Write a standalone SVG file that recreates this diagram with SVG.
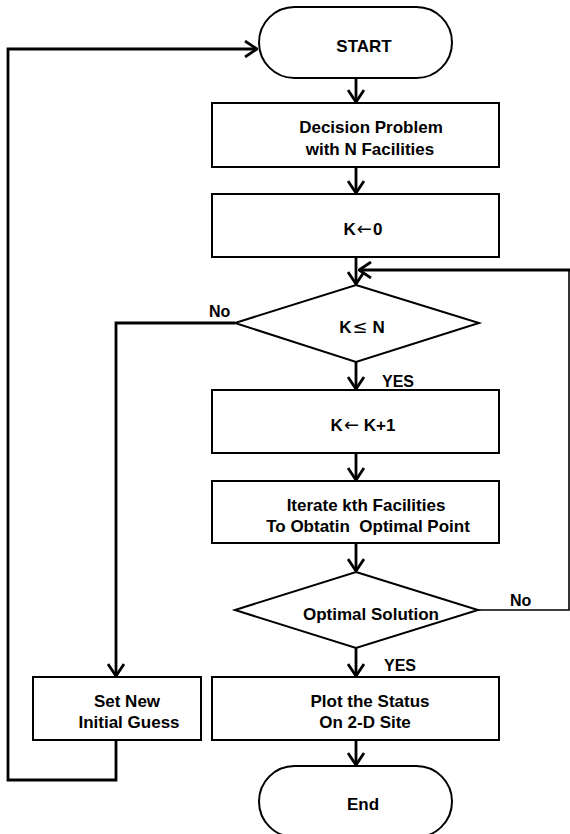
<svg xmlns="http://www.w3.org/2000/svg" width="570" height="834" viewBox="0 0 570 834">
<style>
.shape{fill:#fff;stroke:#000;stroke-width:2}
.t{font-family:"Liberation Sans",Arial,sans-serif;font-weight:bold;font-size:17px;fill:#000;text-anchor:middle}
.sym{font-family:"DejaVu Sans",sans-serif;font-weight:normal;font-size:18px}
.lbl{font-family:"Liberation Sans",Arial,sans-serif;font-weight:bold;font-size:16px;fill:#000}
.c{fill:none;stroke:#000;stroke-width:2.8}
.thin{fill:none;stroke:#000;stroke-width:1.6}
</style>
<defs>
<marker id="arr" markerUnits="userSpaceOnUse" viewBox="0 0 14 18" refX="13" refY="9" markerWidth="14" markerHeight="18" orient="auto">
<path d="M1,1 L13,9 L1,17" fill="none" stroke="#000" stroke-width="2.8"/>
</marker>
</defs>
<rect width="570" height="834" fill="#fff"/>
<g id="connectors">
<line class="c" x1="356" y1="78" x2="356" y2="102" marker-end="url(#arr)"/>
<line class="c" x1="356" y1="167" x2="356" y2="193" marker-end="url(#arr)"/>
<line class="c" x1="356" y1="257" x2="356" y2="284" marker-end="url(#arr)"/>
<line class="c" x1="356" y1="362" x2="356" y2="389" marker-end="url(#arr)"/>
<line class="c" x1="356" y1="453" x2="356" y2="480" marker-end="url(#arr)"/>
<line class="c" x1="356" y1="543" x2="356" y2="571" marker-end="url(#arr)"/>
<line class="c" x1="356" y1="648" x2="356" y2="676" marker-end="url(#arr)"/>
<line class="c" x1="356" y1="740" x2="356" y2="765" marker-end="url(#arr)"/>
<polyline class="c" points="235,323 116,323 116,676" marker-end="url(#arr)"/>
<polyline class="c" points="116,740 116,780 8,780 8,49 257,49" marker-end="url(#arr)"/>
<polyline class="thin" points="478,610 569,610 569,270"/>
<line class="c" x1="570" y1="270" x2="359" y2="270" marker-end="url(#arr)"/>
</g>
<g id="start"><rect class="shape" x="259" y="7" width="193" height="71" rx="35.5"/><text class="t" x="364" y="52">START</text></g>
<g id="decision-problem"><rect class="shape" x="212" y="103" width="287" height="64"/><text class="t" x="371" y="133">Decision Problem</text><text class="t" x="370" y="155">with N Facilities</text></g>
<g id="k-init"><rect class="shape" x="212" y="194" width="287" height="63"/><text class="t" x="363" y="235">K<tspan class="sym" dx="1">←</tspan><tspan dx="1">0</tspan></text></g>
<g id="k-le-n"><polygon class="shape" points="356,285 479,323 356,362 235,323"/><text class="t" x="362" y="333" xml:space="preserve">K<tspan class="sym" dx="1">≤</tspan> N</text></g>
<g id="k-inc"><rect class="shape" x="212" y="390" width="287" height="63"/><text class="t" x="363" y="431" xml:space="preserve">K<tspan class="sym" dx="1">←</tspan> K+1</text></g>
<g id="iterate"><rect class="shape" x="212" y="481" width="287" height="62"/><text class="t" x="366" y="511">Iterate kth Facilities</text><text class="t" x="368" y="532" xml:space="preserve">To Obtatin  Optimal Point</text></g>
<g id="optimal"><polygon class="shape" points="356,572 478,610 356,648 235,610"/><text class="t" x="371" y="620">Optimal Solution</text></g>
<g id="plot"><rect class="shape" x="212" y="677" width="287" height="63"/><text class="t" x="370" y="707">Plot the Status</text><text class="t" x="365" y="728">On 2-D Site</text></g>
<g id="set-guess"><rect class="shape" x="33" y="677" width="168" height="63"/><text class="t" x="127" y="707">Set New</text><text class="t" x="129" y="728">Initial Guess</text></g>
<g id="end"><rect class="shape" x="259" y="766" width="193" height="71" rx="35.5"/><text class="t" x="363" y="810">End</text></g>
<g id="labels">
<text class="lbl" x="209" y="317">No</text>
<text class="lbl" x="382" y="387">YES</text>
<text class="lbl" x="510" y="606">No</text>
<text class="lbl" x="384" y="671">YES</text>
</g>
</svg>
